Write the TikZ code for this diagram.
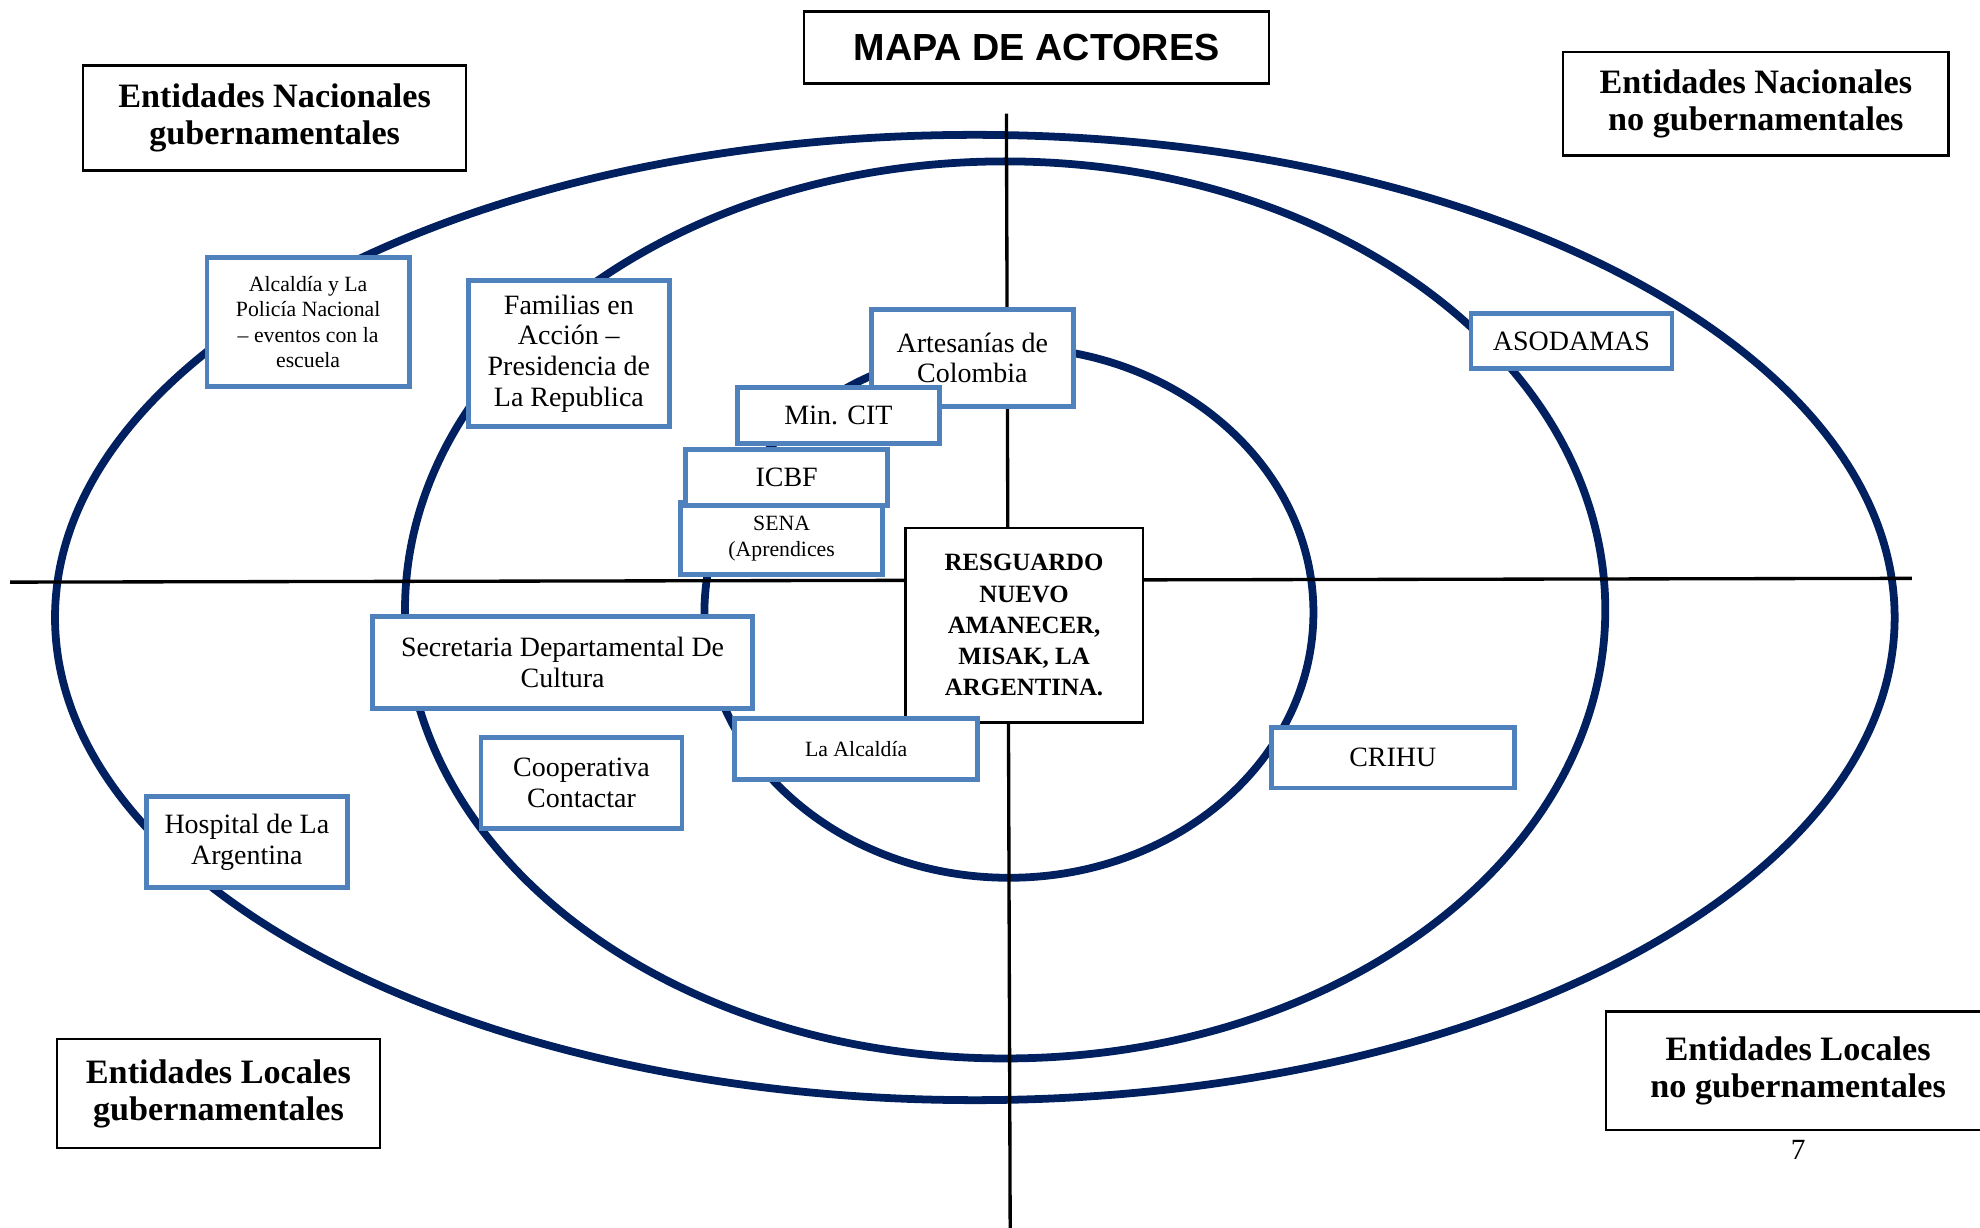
\documentclass[tikz,border=0pt]{standalone}
\usepackage{fontspec}
\setmainfont{Liberation Serif}
\newfontfamily\mapsans{Liberation Sans}
\usetikzlibrary{positioning}
\definecolor{ringblue}{HTML}{002060}
\definecolor{actorblue}{HTML}{4F81BD}
\tikzset{
  ring/.style={draw=ringblue, line width=1.75pt},
  axisline/.style={draw=black, line width=0.75pt},
  cornerbox/.style={rectangle, draw=black, line width=0.55pt, fill=white, align=center, inner sep=0pt, font=\fontsize{7.7}{8.3}\selectfont\bfseries},
  actorbox/.style={rectangle, draw=actorblue, line width=1.1pt, fill=white, align=center, inner sep=0pt, font=\fontsize{6.3}{6.9}\selectfont},
  smallactor/.style={actorbox, font=\fontsize{4.9}{5.7}\selectfont},
}
\begin{document}
\begin{tikzpicture}[x=0.01cm, y=-0.01cm]
    \useasboundingbox (0,0) rectangle (1568,972);

    % Rings
    \draw[ring] (772,489) ellipse [x radius=7.28cm, y radius=3.82cm];
    \draw[ring] (796,483) ellipse [x radius=4.75cm, y radius=3.55cm];
    \draw[ring] (799,485) ellipse [x radius=2.41cm, y radius=2.10cm];

    % Axes
    \coordinate (axtop) at (797,90);
    \coordinate (axbot) at (800,975);
    \coordinate (axleft) at (8,461);
    \coordinate (axright) at (1514,458);
    \draw[axisline] (axtop) -- (axbot);
    \draw[axisline] (axleft) -- (axright);

    % Title and quadrant labels
    \node (title) [rectangle, draw=black, line width=0.55pt, fill=white, minimum width=3.68cm, minimum height=0.57cm, font=\mapsans\fontsize{8.5}{9}\selectfont\bfseries] at (821,37.5) {MAPA DE ACTORES};
    \node (natgub) [cornerbox, minimum width=3.03cm, minimum height=0.83cm] at (217.5,93.5) {Entidades Nacionales\\gubernamentales};
    \node (natnogub) [cornerbox, minimum width=3.05cm, minimum height=0.82cm] at (1390.5,82) {Entidades Nacionales\\no gubernamentales};
    \node (locgub) [cornerbox, minimum width=2.56cm, minimum height=0.86cm] at (173,866) {Entidades Locales\\gubernamentales};
    \node (locnogub) [cornerbox, minimum width=3.04cm, minimum height=0.94cm] at (1424,848) {Entidades Locales\\no gubernamentales};
    \node (pagenum) [font=\fontsize{6.6}{7}\selectfont, inner sep=0pt] at (1424,911) {7};

    % Actors
    \node (alcpol) [smallactor, minimum width=1.60cm, minimum height=1.02cm] at (244,255) {Alcaldía y La\\Policía Nacional\\– eventos con la\\escuela};
    \node (familias) [actorbox, minimum width=1.59cm, minimum height=1.16cm] at (450.5,280) {Familias en\\Acción –\\Presidencia de\\La Republica};
    \node (artesanias) [actorbox, minimum width=1.60cm, minimum height=0.77cm] at (770,283.5) {Artesanías de\\Colombia};
    \node (mincit) [actorbox, minimum width=1.60cm, minimum height=0.44cm] at (664,329) {Min. CIT};
    \node (sena) [smallactor, minimum width=1.60cm, minimum height=0.57cm] at (619,426.5) {SENA\\(Aprendices};
    \node (icbf) [actorbox, minimum width=1.60cm, minimum height=0.44cm] at (623,378) {ICBF};
    \node (asodamas) [actorbox, minimum width=1.59cm, minimum height=0.44cm] at (1244.5,270) {ASODAMAS};
    \node (resguardo) [rectangle, draw=black, line width=0.55pt, fill=white, align=center, inner sep=0pt, minimum width=1.88cm, minimum height=1.54cm, font=\fontsize{5.6}{7}\selectfont\bfseries] at (811,495) {RESGUARDO\\NUEVO\\AMANECER,\\MISAK, LA\\ARGENTINA.};
    \node (secretaria) [actorbox, minimum width=3.01cm, minimum height=0.73cm] at (445.5,524.5) {Secretaria Departamental De\\Cultura};
    \node (cooperativa) [actorbox, minimum width=1.59cm, minimum height=0.72cm] at (460.5,620) {Cooperativa\\Contactar};
    \node (laalcaldia) [smallactor, minimum width=1.92cm, minimum height=0.48cm] at (678,593) {La Alcaldía};
    \node (crihu) [actorbox, minimum width=1.92cm, minimum height=0.48cm] at (1103,600) {CRIHU};
    \node (hospital) [actorbox, minimum width=1.59cm, minimum height=0.72cm] at (195.5,667) {Hospital de La\\Argentina};
\end{tikzpicture}
\end{document}
